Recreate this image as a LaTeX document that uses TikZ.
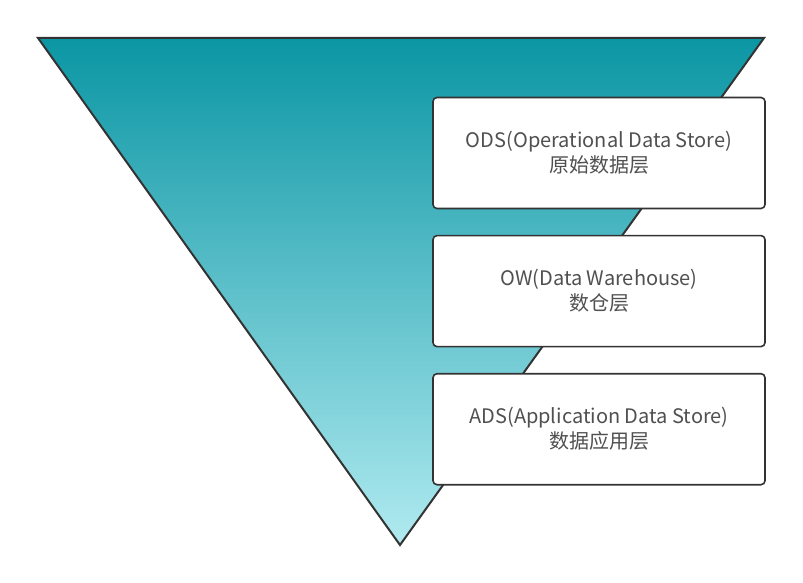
\documentclass[tikz,border=0pt]{standalone}
\usepackage{fontspec}
\setmainfont{Noto Sans CJK SC}
\usetikzlibrary{positioning}
\definecolor{funneltop}{HTML}{0B96A4}
\definecolor{funnelbot}{HTML}{B0EAF0}
\definecolor{edgegray}{HTML}{333333}
\definecolor{textgray}{HTML}{505050}
\tikzstyle{every node}=[thick]
\tikzstyle{layer}=[draw=edgegray,line width=1.6pt,fill=white,rounded corners=4pt,minimum width=332pt,minimum height=111pt,align=center,text=textgray,font=\fontsize{20}{25}\selectfont]

\begin{document}
\begin{tikzpicture}[x=1pt,y=-1pt,node distance=25.5pt]
			\useasboundingbox (0,0) rectangle (803,583);
			\shade[top color=funneltop,bottom color=funnelbot] (38,38) -- (764,38) -- (400,545) -- cycle;
			\draw[edgegray,line width=2pt,line join=miter] (38,38) -- (764,38) -- (400,545) -- cycle;
			\node[layer] (ods) at (599,153)  {ODS(Operational Data Store)\\原始数据层};
			\node[layer] (ow)  [below=of ods] {OW(Data Warehouse)\\数仓层};
			\node[layer] (ads) [below=of ow]  {ADS(Application Data Store)\\数据应用层};
		\end{tikzpicture}
\end{document}
